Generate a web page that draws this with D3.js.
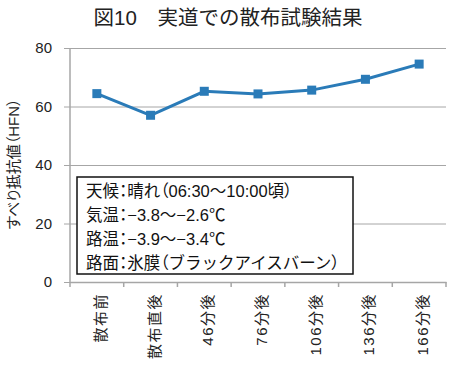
<!DOCTYPE html>
<html><head><meta charset="utf-8">
<script src="https://cdn.jsdelivr.net/npm/d3@7"></script>
<style>
body{margin:0;background:#fff;}
text{font-family:"Liberation Sans","Noto Sans CJK JP",sans-serif;}
.palt{font-feature-settings:"palt";}
</style></head>
<body><svg id="c" width="453" height="370"></svg>
<script>
const categories = ["散布前","散布直後","46分後","76分後","106分後","136分後","166分後"];
const values = [64.4, 57.0, 65.2, 64.3, 65.6, 69.3, 74.5];
const yTicks = [0, 20, 40, 60, 80];
const title = "図10　実道での散布試験結果";
const yTitle = "すべり抵抗値（HFN）";
const notes = ["天候：晴れ（06:30～10:00頃）","気温：−3.8～−2.6℃","路温：−3.9～−3.4℃","路面：氷膜（ブラックアイスバーン）"];

const svg = d3.select("#c");
const L=70, R=446, T=48, B=282;
const x = d3.scaleBand().domain(categories).range([L,R]);
const y = d3.scaleLinear().domain([0,80]).range([B,T]);
const grid="#a6a6a6";

svg.append("text").attr("x",228).attr("y",25).attr("text-anchor","middle")
  .attr("font-size",20.5).attr("fill","#222").text(title);

// gridlines
const ya = svg.append("g").attr("transform",`translate(${L},0)`)
  .call(d3.axisLeft(y).tickValues(yTicks).tickSize(6).tickPadding(12).tickFormat(d3.format("d")));
ya.select(".domain").remove();
ya.selectAll(".tick line").attr("stroke",grid).attr("x2",R-L).attr("x1",-6);
ya.selectAll(".tick text").attr("font-size",15).attr("fill","#222");

// x axis
const xa = svg.append("g").attr("transform",`translate(0,${B})`)
  .call(d3.axisBottom(x).tickSize(0).tickPadding(0));
xa.select(".domain").attr("stroke",grid).attr("stroke-width",1.5);
xa.selectAll(".tick text").remove();
const bounds = categories.map(c=>x(c)).concat([R]);
svg.append("g").selectAll("line").data(bounds).join("line")
  .attr("x1",d=>d).attr("x2",d=>d).attr("y1",B).attr("y2",B+5).attr("stroke",grid).attr("stroke-width",1.5);
svg.append("line").attr("x1",L).attr("x2",L).attr("y1",T).attr("y2",B).attr("stroke",grid).attr("stroke-width",1.5);

// x labels
svg.append("g").selectAll("text").data(categories).join("text")
  .attr("transform",d=>`translate(${x(d)+x.bandwidth()/2+9},${B+11}) rotate(-90)`)
  .attr("text-anchor","end").attr("font-size",15).attr("fill","#222")
  .attr("letter-spacing",1.5).text(d=>d);

// y title
svg.append("text").attr("class","palt").attr("transform","translate(19,164) rotate(-90)")
  .attr("text-anchor","middle").attr("font-size",15).attr("fill","#222").text(yTitle);

// notes box
svg.append("rect").attr("x",77).attr("y",177).attr("width",276).attr("height",97)
  .attr("fill","#fff").attr("stroke","#111").attr("stroke-width",1.5);
const punct = /[：（）]/;
const nt = svg.append("g").selectAll("text").data(notes).join("text")
  .attr("x",86).attr("y",(d,i)=>197+i*24).attr("font-size",16.5).attr("fill","#111");
nt.each(function(d){
  const t = d3.select(this);
  const runs = d.match(/[：（）]+|[^：（）]+/g);
  runs.forEach(r=>{
    const ts = t.append("tspan").text(r);
    if (punct.test(r)) ts.attr("class","palt");
  });
});

// line
const col="#2a7bb8";
const pts = categories.map((c,i)=>[x(c)+x.bandwidth()/2, y(values[i])]);
svg.append("path").attr("d",d3.line()(pts)).attr("fill","none").attr("stroke",col).attr("stroke-width",3);
svg.append("g").selectAll("rect").data(pts).join("rect")
  .attr("x",d=>d[0]-4.5).attr("y",d=>d[1]-4.5).attr("width",9).attr("height",9).attr("fill",col);
</script></body></html>
